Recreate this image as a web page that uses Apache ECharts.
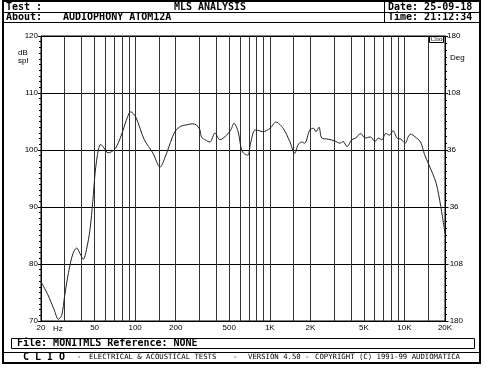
<!DOCTYPE html>
<html><head><meta charset="utf-8">
<script src="https://cdn.jsdelivr.net/npm/echarts@6/dist/echarts.min.js"></script>
<style>html,body{margin:0;padding:0;background:#fff}#c{width:492px;height:370px}</style>
</head><body><div id="c"></div>
<script>
// ---- data ----
const freqHz = [20,22.5,25,26.9,28.5,30,32,34.5,36.8,39,41.2,43.5,46.2,48.5,50.4,51.8,53.5,55.5,58.5,63,71,79,86,92.6,101,117,136,153,171,197,220,241,265,285,303,311,335,359,392,426,478,515,542,582,617,650,689,720,776,830,889,1004,1110,1257,1407,1531,1622,1720,1816,1979,2118,2200,2320,2430,2713,3030,3325,3500,3745,4066,4350,4728,5100,5580,6048,6400,6800,7265,7750,8234,8800,9400,10130,10650,11120,12000,13160,14100,15200,17180,18600,20000];
const splDb = [76.9,74.6,72.0,70.3,71.0,74.5,78.5,81.8,82.8,81.8,80.8,82.5,86.0,91.0,95.9,98.2,100.2,101.0,100.4,99.5,100.2,102.6,105.2,106.7,105.8,101.8,99.4,97.0,99.4,103.2,104.2,104.4,104.6,104.4,103.5,102.3,101.7,101.4,103.0,101.8,102.6,103.6,104.7,103.2,100.0,99.3,99.1,101.2,103.5,103.4,103.2,103.8,104.9,103.8,101.5,99.4,100.9,101.4,101.2,103.5,103.8,103.2,104.0,102.1,101.9,101.6,101.2,101.5,100.6,101.8,102.1,102.9,102.1,102.3,101.5,102.1,101.8,102.9,102.6,103.4,102.1,101.9,101.2,102.3,102.8,102.3,101.4,99.2,97.4,94.2,90.1,85.4];
const gridFreqs = [30,40,50,60,70,80,90,100,150,200,300,400,500,600,700,800,900,1000,1500,2000,3000,4000,5000,6000,7000,8000,9000,10000,15000];
const xTickValues = [20,50,100,200,500,1000,2000,5000,10000,20000];
const xTickLabels = ['20','50','100','200','500','1K','2K','5K','10K','20K'];
const yLeftTicks = [70,80,90,100,110,120];
const yRightTicks = [-180,-108,-36,36,108,180];

const mono = 'DejaVu Sans Mono';
const lab = 'Liberation Sans';
const chart = echarts.init(document.getElementById('c'), null, {renderer:'canvas'});
const T = (x,y,text,opt={}) => ({type:'text', x, y, z:opt.z||10, silent:true, style:Object.assign({text, fill:'#000', font:(opt.bold?'bold ':'')+(opt.size||10)+'px "'+(opt.family||mono)+'"', textAlign:opt.align||'left', textVerticalAlign:'middle'}, opt.style||{})});
const L = (x1,y1,x2,y2,w=1) => ({type:'line', silent:true, shape:{x1,y1,x2,y2}, style:{stroke:'#000', lineWidth:w}});

chart.setOption({
  animation:false,
  backgroundColor:'#fff',
  grid:{left:41, right:47, top:36, bottom:49, show:true, borderColor:'#000', borderWidth:1, containLabel:false},
  xAxis:{type:'log', logBase:10, min:20, max:20000,
    axisLine:{show:false}, splitLine:{show:false}, axisTick:{show:false},
    axisLabel:{customValues:xTickValues, formatter:v=>{const i=xTickValues.findIndex(t=>Math.abs(t-v)<1e-6);return i>=0?xTickLabels[i]:'';}, color:'#000', fontFamily:lab, fontSize:8, margin:3, showMinLabel:true, showMaxLabel:true}},
  yAxis:[
    {type:'value', min:70, max:120, interval:10, position:'left',
     axisLine:{show:true, lineStyle:{color:'#000'}},
     axisTick:{show:true, length:3, lineStyle:{color:'#000'}},
     minorTick:{show:true, splitNumber:10, length:2, lineStyle:{color:'#000'}},
     splitLine:{show:true, lineStyle:{color:'#000', width:1}},
     axisLabel:{color:'#000', fontFamily:lab, fontSize:8, margin:3, formatter:v=>yLeftTicks.includes(v)?String(v):''}},
    {type:'value', min:-180, max:180, interval:72, position:'right',
     axisLine:{show:true, lineStyle:{color:'#000'}},
     axisTick:{show:true, length:3, lineStyle:{color:'#000'}},
     minorTick:{show:true, splitNumber:8, length:2, lineStyle:{color:'#000'}},
     splitLine:{show:false},
     axisLabel:{color:'#000', fontFamily:lab, fontSize:8, margin:2, formatter:v=>yRightTicks.includes(v)?String(v):''}}
  ],
  series:[{
    type:'line', yAxisIndex:0, showSymbol:false, smooth:0.3,
    data:freqHz.map((f,i)=>[f,splDb[i]]),
    lineStyle:{color:'#222', width:1},
    markLine:{silent:true, symbol:['none','none'], label:{show:false},
      lineStyle:{type:'solid', color:'#333', width:1},
      data:gridFreqs.map(f=>({xAxis:f}))},
    z:5
  }],
  graphic:[
    {type:'rect', silent:true, shape:{x:3,y:1,width:477,height:362}, style:{fill:null, stroke:'#000', lineWidth:2}},
    L(3,12.5,480,12.5), L(3,22.5,480,22.5), L(384.5,1,384.5,22.5),
    T(6,7,'Test :',{bold:true}),
    T(210,7,'MLS ANALYSIS',{bold:true, align:'center'}),
    T(6,17.5,'About:',{bold:true}),
    T(63,17.5,'AUDIOPHONY ATOM12A',{bold:true}),
    T(388,7,'Date: 25-09-18',{bold:true}),
    T(388,17.5,'Time: 21:12:34',{bold:true}),
    T(18,53,'dB',{family:lab, size:8}),
    T(18,61,'spl',{family:lab, size:8}),
    T(450,58,'Deg',{family:lab, size:8}),
    T(53,329,'Hz',{family:lab, size:8}),
    {type:'rect', silent:true, z:100, shape:{x:429.5,y:36.5,width:14,height:6}, style:{fill:'#fff', stroke:'#000', lineWidth:1}},
    T(436.5,39.7,'Clio',{family:'DejaVu Serif', size:6, align:'center', z:101}),
    {type:'rect', silent:true, shape:{x:11.5,y:338.5,width:463,height:10}, style:{fill:null, stroke:'#000', lineWidth:1}},
    T(17,343.7,'File: MONITMLS Reference: NONE',{bold:true}),
    L(3,352.5,480,352.5),
    T(23,357.5,'C L I O',{bold:true}),
    T(77,357.5,'-',{size:7.3}),
    T(89,357.5,'ELECTRICAL & ACOUSTICAL TESTS',{size:7.3}),
    T(233,357.5,'-',{size:7.3}),
    T(248,357.5,'VERSION 4.50',{size:7.3}),
    T(305,357.5,'-',{size:7.3}),
    T(315,357.5,'COPYRIGHT (C) 1991-99 AUDIOMATICA',{size:7.3})
  ]
});
</script></body></html>
